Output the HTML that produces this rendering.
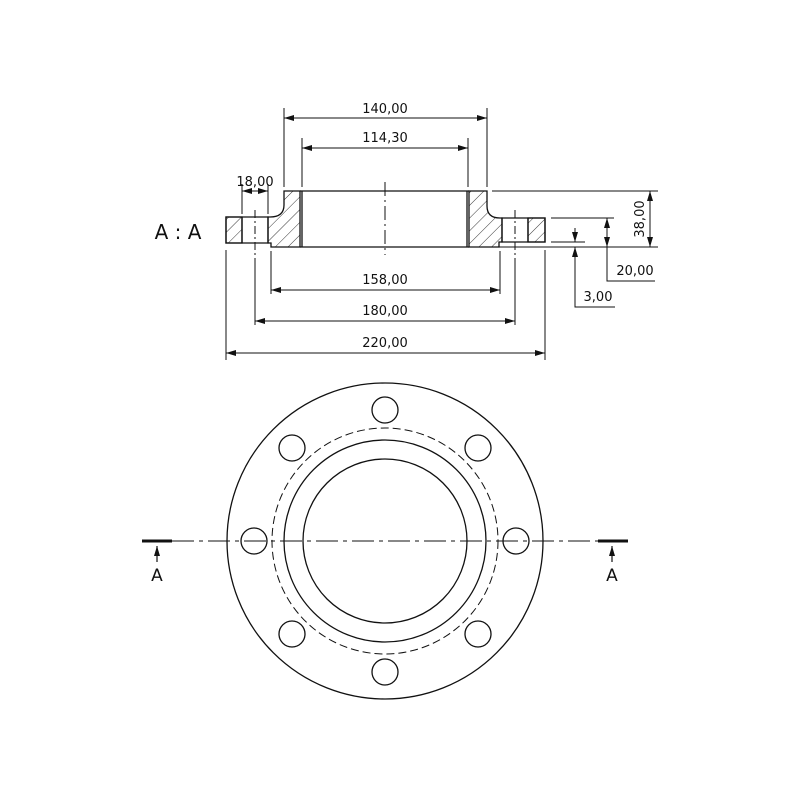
<!DOCTYPE html>
<html><head><style>body{margin:0;background:#fff}svg{display:block}text{font-family:"DejaVu Sans","Liberation Sans",sans-serif;fill:#111}</style></head><body>
<svg width="800" height="800" viewBox="0 0 800 800" xmlns="http://www.w3.org/2000/svg">
<defs>
<pattern id="h" width="9" height="9" patternUnits="userSpaceOnUse" patternTransform="rotate(45)"><line x1="0" y1="0" x2="0" y2="9" stroke="#222" stroke-width="0.9"/></pattern>
<marker id="a" viewBox="0 0 10 6" refX="10" refY="3" markerWidth="10" markerHeight="6" orient="auto-start-reverse" markerUnits="userSpaceOnUse"><path d="M0,0L10,3L0,6z" fill="#111"/></marker>
</defs>
<g stroke="#111" fill="none" stroke-width="1.3">
<!-- section view -->
<!-- hatched left -->
<path d="M226,217H242V243H226Z" fill="url(#h)"/>
<path d="M268,217H270Q284,217 284,205V191H300V247H271V243H268Z" fill="url(#h)"/>
<path d="M528,218H545V242H528Z" fill="url(#h)"/>
<path d="M502,218H500Q487,218 487,206V191H469V247H499V242H502Z" fill="url(#h)"/>
<path d="M226,217H242V243H226Z M242,217H268V243H242Z"/>
<path d="M502,218H528V242H502Z M528,218H545V242H528Z"/>
<line x1="300" y1="191" x2="469" y2="191"/>
<line x1="300" y1="247" x2="469" y2="247"/>
<line x1="302" y1="191" x2="302" y2="247"/>
<line x1="467" y1="191" x2="467" y2="247"/>
</g>
<g stroke="#111" stroke-width="1" fill="none">
<!-- center lines -->
<line x1="385" y1="182" x2="385" y2="255" stroke-dasharray="14,4,2,4"/>
<line x1="255" y1="210" x2="255" y2="255" stroke-dasharray="8,3,2,3"/>
<line x1="515" y1="210" x2="515" y2="255" stroke-dasharray="8,3,2,3"/>
<!-- extension lines -->
<line x1="284" y1="108" x2="284" y2="187"/><line x1="487" y1="108" x2="487" y2="187"/>
<line x1="302" y1="138" x2="302" y2="187"/><line x1="468" y1="138" x2="468" y2="187"/>
<line x1="242" y1="184" x2="242" y2="214"/><line x1="268" y1="184" x2="268" y2="214"/>
<line x1="271" y1="251" x2="271" y2="294"/><line x1="500" y1="251" x2="500" y2="294"/>
<line x1="255" y1="258" x2="255" y2="325"/><line x1="515" y1="258" x2="515" y2="325"/>
<line x1="226" y1="250" x2="226" y2="360"/><line x1="545" y1="250" x2="545" y2="360"/>
<line x1="492" y1="191" x2="658" y2="191"/><line x1="492" y1="247" x2="658" y2="247"/>
<line x1="551" y1="218" x2="614" y2="218"/><line x1="551" y1="242" x2="585" y2="242"/>
<!-- dims -->
<line x1="284" y1="118" x2="487" y2="118" marker-start="url(#a)" marker-end="url(#a)"/>
<line x1="302" y1="148" x2="468" y2="148" marker-start="url(#a)" marker-end="url(#a)"/>
<line x1="242" y1="191" x2="268" y2="191" marker-start="url(#a)" marker-end="url(#a)"/>
<line x1="271" y1="290" x2="500" y2="290" marker-start="url(#a)" marker-end="url(#a)"/>
<line x1="255" y1="321" x2="515" y2="321" marker-start="url(#a)" marker-end="url(#a)"/>
<line x1="226" y1="353" x2="545" y2="353" marker-start="url(#a)" marker-end="url(#a)"/>
<line x1="650" y1="191" x2="650" y2="247" marker-start="url(#a)" marker-end="url(#a)"/>
<line x1="607" y1="218" x2="607" y2="247" marker-start="url(#a)" marker-end="url(#a)"/>
<polyline points="607,247 607,281 655,281"/>
<line x1="575" y1="228" x2="575" y2="242" marker-end="url(#a)"/>
<line x1="575" y1="261" x2="575" y2="247" marker-end="url(#a)"/>
<polyline points="575,247 575,307 615,307"/>
</g>
<g font-size="13" text-anchor="middle">
<text x="385" y="113">140,00</text>
<text x="385" y="142">114,30</text>
<text x="255" y="186">18,00</text>
<text x="385" y="284">158,00</text>
<text x="385" y="315">180,00</text>
<text x="385" y="347">220,00</text>
<text x="635" y="275">20,00</text>
<text x="598" y="301">3,00</text>
<text transform="translate(644,219) rotate(-90)">38,00</text>
</g>
<text x="178" y="239" font-size="20" text-anchor="middle">A : A</text>
<!-- plan view -->
<g stroke="#111" fill="none" stroke-width="1.3">
<circle cx="385" cy="541" r="158"/>
<circle cx="385" cy="541" r="113" stroke-dasharray="8,4" stroke-width="1"/>
<circle cx="385" cy="541" r="101"/>
<circle cx="385" cy="541" r="82"/>
<circle cx="516" cy="541" r="13"/><circle cx="254" cy="541" r="13"/>
<circle cx="385" cy="410" r="13"/><circle cx="385" cy="672" r="13"/>
<circle cx="478" cy="448" r="13"/><circle cx="292" cy="448" r="13"/>
<circle cx="478" cy="634" r="13"/><circle cx="292" cy="634" r="13"/>
<line x1="172" y1="541" x2="598" y2="541" stroke-width="1" stroke-dasharray="22,5,4,5"/>
<line x1="142" y1="541" x2="172" y2="541" stroke-width="3"/>
<line x1="598" y1="541" x2="628" y2="541" stroke-width="3"/>
<line x1="157" y1="562" x2="157" y2="546" stroke-width="1.2" marker-end="url(#a)"/>
<line x1="612" y1="562" x2="612" y2="546" stroke-width="1.2" marker-end="url(#a)"/>
</g>
<text x="157" y="581" font-size="17" text-anchor="middle">A</text>
<text x="612" y="581" font-size="17" text-anchor="middle">A</text>
</svg>
</body></html>
